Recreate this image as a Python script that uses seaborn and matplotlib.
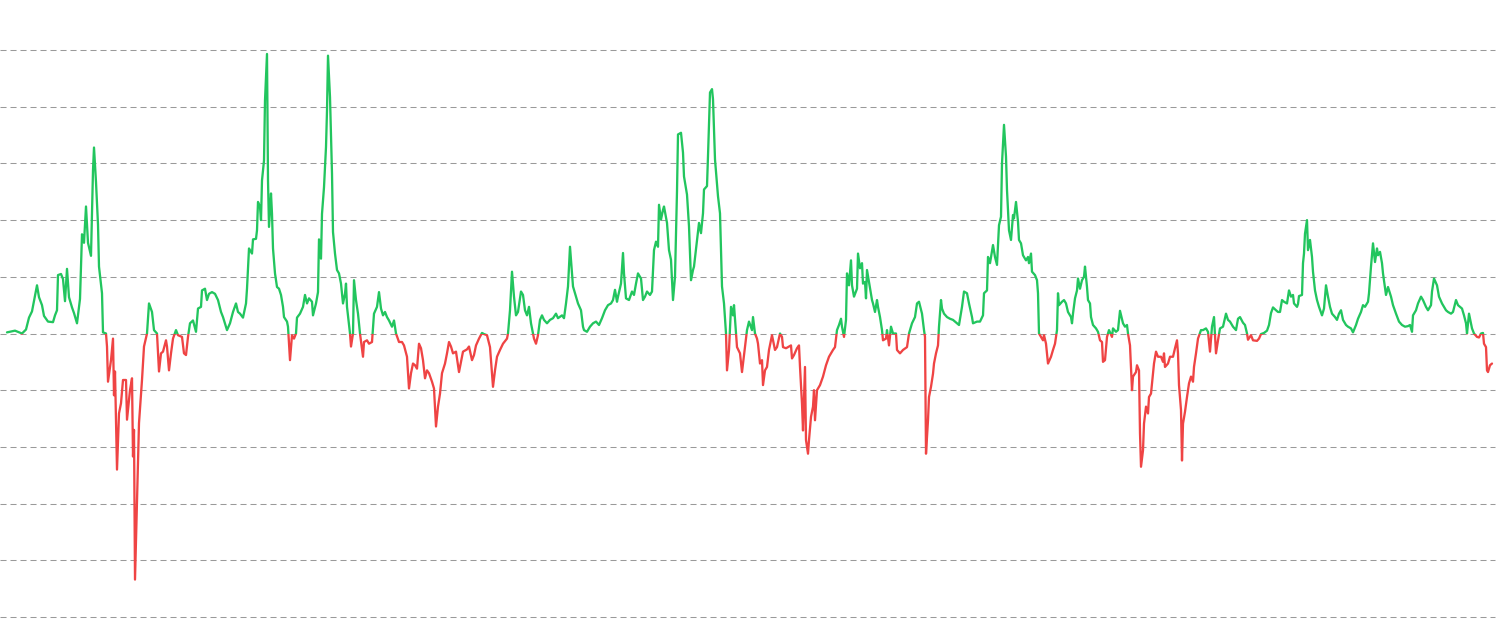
import numpy as np
import pandas as pd
import matplotlib
matplotlib.use("Agg")
import matplotlib.pyplot as plt
from matplotlib.patches import Rectangle
import seaborn as sns

# ---- data (time position, value) ----
t1 = [7,15,22,26,29,32,34,37,39,42,44,48,53,55,57,58,61,63,65,67,69,72,74,77,80,82,84,86,88,91,93,94,96,98,99,102,103,106,
      107,108,111,113,114,115,117,119,121,123,126,127,130,132,133,134,135,137,139,142,144,147,149,152,154,157,159,161,163,166,
      167,169,171,173,176,178,182,184,186,188,190,193,196,198,201,202,205,207,209,212,215,218,221,223,227,230,233,236,238]
v1 = [0.02,0.05,0,0.07,0.28,0.39,0.57,0.85,0.64,0.5,0.31,0.21,0.2,0.32,0.41,1.03,1.05,0.96,0.57,1.14,0.64,0.46,0.36,0.18,0.61,
      1.75,1.6,2.24,1.6,1.37,2.88,3.28,2.67,1.92,1.18,0.71,0.02,0,
      -0.23,-0.85,-0.47,-0.09,-1.09,-0.67,-2.4,-1.41,-1.23,-0.82,-0.82,-1.52,-1.0,-0.79,-2.17,-1.7,-4.34,-2.93,-1.58,-0.82,-0.23,
      0,0.53,0.38,0.06,0,-0.67,-0.35,-0.32,-0.12,-0.23,-0.65,-0.35,-0.09,0.06,-0.03,-0.06,-0.35,-0.38,-0.06,0.18,0.23,0.03,0.44,
      0.47,0.76,0.79,0.59,0.7,0.73,0.7,0.59,0.38,0.29,0.06,0.18,0.38,0.53,0.38]

t2 = [240,243,246,247,249,252,253,256,257,258,260,261,262,264,265,267,268,269,271,272,273,275,277,279,281,283,284,287,288,290,
      292,294,296,297,300,303,305,307,309,312,313,316,318,319,321,322,324,326,327,328,330,332,333,335,337,339,341,343,345,346,
      347,350,351,353,354,356,358,360,363,364,367,369,372,374,377,379,381,383,385,387,389,392,394,396,399,402,404,407,409,411,
      413,415,417,419,421,423,425,427,429,432,434,436,438,440,442,445,447,449,451,453,456,459,461,463,467,469,472,474,476,479,
      482,484,487]
v2 = [0.35,0.28,0.53,0.79,1.5,1.41,1.66,1.67,1.82,2.32,2.23,2.0,2.7,3.05,4.11,4.93,2.7,1.88,2.47,2.11,1.5,1.06,0.82,0.79,0.68,
      0.47,0.29,0.21,0.12,-0.47,-0.03,-0.09,0,0.28,0.35,0.47,0.68,0.53,0.62,0.56,0.32,0.53,0.73,1.66,1.32,2.11,2.58,3.29,3.93,4.9,
      4.17,2.82,1.79,1.41,1.12,1.06,0.88,0.53,0.7,0.88,0.47,0,-0.23,0,0.94,0.59,0.35,0,-0.41,-0.15,-0.12,-0.18,-0.15,0.35,0.47,
      0.73,0.44,0.32,0.38,0.29,0.23,0.12,0.23,0,-0.15,-0.15,-0.21,-0.41,-0.97,-0.7,-0.53,-0.56,-0.62,-0.18,-0.26,-0.47,-0.79,
      -0.65,-0.7,-0.85,-0.97,-1.64,-1.29,-1.06,-0.7,-0.53,-0.35,-0.15,-0.23,-0.35,-0.32,-0.68,-0.5,-0.32,-0.28,-0.23,-0.47,-0.38,
      -0.21,-0.09,0.01,-0.01,-0.03]

t3 = [490,493,495,497,500,503,507,508,510,512,514,516,518,521,523,525,527,529,531,533,534,536,538,540,542,544,547,550,553,556,
      558,562,564,566,568,570,572,573,576,578,581,583,584,587,590,593,596,599,602,605,608,611,613,615,617,618,621,623,624,626,
      629,632,634,636,638,641,643,645,647,650,652,654,656,658,659,661,663,664,667,669,671,673,675,677,678,681,683,684,687,689,
      691,693,694,697,699,701,703,704,707,708,710,712,713,715,717,718,720,722,724,726,727,729,731,733,734,736,737]
v3 = [-0.24,-0.94,-0.65,-0.41,-0.29,-0.18,-0.09,0,0.41,1.09,0.65,0.32,0.38,0.74,0.68,0.41,0.32,0.47,0.18,0,-0.09,-0.18,-0.03,
      0.24,0.32,0.24,0.18,0.24,0.27,0.35,0.27,0.32,0.27,0.53,0.83,1.53,1.06,0.83,0.65,0.53,0.41,0.12,0.06,0.03,0.12,0.18,0.21,
      0.15,0.27,0.41,0.5,0.53,0.59,0.77,0.56,0.65,0.88,1.42,1.06,0.62,0.59,0.74,0.68,0.88,1.06,0.97,0.59,0.65,0.74,0.68,0.74,
      1.47,1.62,1.53,2.27,2.01,2.18,2.24,1.95,1.47,1.3,0.59,1.0,2.51,3.51,3.54,3.19,2.77,2.45,1.89,0.94,1.12,1.18,1.65,1.95,
      1.77,2.12,2.54,2.6,3.13,4.25,4.31,4.13,3.07,2.65,2.42,2.12,0.83,0.53,0,-0.65,-0.29,0.47,0.32,0.5,0,-0.24]

t4 = [740,742,743,745,747,749,752,753,755,757,758,760,762,763,765,767,769,772,773,775,777,780,782,783,786,788,791,792,794,797,
      799,800,802,803,805,806,808,809,811,813,814,815,817,820,823,826,829,833,835,837,839,841,842,844,846,847,849,851,852,854,
      857,858,860,862,863,865,866,867,869,872,873,875,877,878,880,882,883,886,887,889,891,893,896,897,900,903,907,909,912,915,
      917,919,922,924,925,926,928,929,931,933,934,936,938,939,941,942,944,947,950,953,957,959,962,964,967,969,972,973,977,980,
      983,984,987,988]
v4 = [-0.35,-0.68,-0.53,-0.24,0.06,0.21,0.06,0.29,0,-0.09,-0.18,-0.53,-0.47,-0.91,-0.65,-0.59,-0.29,-0.03,-0.12,-0.29,-0.24,0,
      -0.06,-0.24,-0.26,-0.24,-0.21,-0.44,-0.38,-0.26,-0.21,-0.59,-1.24,-1.71,-0.59,-1.88,-2.12,-1.88,-1.47,-1.29,-1.0,-1.53,-1.0,
      -0.91,-0.76,-0.56,-0.41,-0.29,-0.24,0.06,0.15,0.26,0.12,-0.06,0.24,1.06,0.85,1.29,0.85,0.65,0.79,1.41,1.15,1.24,0.88,0.91,
      0.62,1.12,0.91,0.59,0.53,0.38,0.59,0.47,0.29,0.06,-0.12,-0.09,0.06,-0.21,0.12,0,0,-0.29,-0.35,-0.29,-0.24,0,0.18,0.29,0.53,
      0.56,0.35,0.06,-0.06,-2.12,-1.53,-1.12,-0.94,-0.71,-0.53,-0.35,-0.21,0.12,0.59,0.44,0.35,0.29,0.26,0.24,0.18,0.15,0.47,0.74,
      0.71,0.53,0.29,0.18,0.21,0.21,0.32,0.71,0.76,1.35]

t5 = [990,993,995,997,999,1001,1002,1004,1006,1007,1009,1011,1013,1014,1016,1018,1019,1021,1023,1026,1028,1029,1031,1032,1035,
      1037,1038,1039,1041,1043,1044,1046,1048,1051,1053,1055,1057,1058,1059,1062,1064,1066,1068,1071,1072,1073,1075,1077,1078,
      1080,1082,1084,1085,1087,1088,1090,1091,1093,1096,1098,1100,1102,1103,1105,1107,1109,1112,1113,1116,1118,1120,1123,1125,
      1127,1128,1130,1132,1133,1136,1137,1139,1140,1141,1143,1144,1146,1148,1149,1151,1153,1154,1156,1158,1161,1163,1164,1165,
      1168,1170,1173,1175,1177,1178,1179,1181,1182,1183,1185,1187,1189,1191,1193,1194,1196,1198,1201,1203,1206,1208,1210,1212,
      1214,1216,1218,1220,1223,1226,1228,1230,1233,1236,1238]
v5 = [1.24,1.56,1.35,1.21,1.91,2.06,3.0,3.68,3.12,2.53,1.82,1.65,2.09,2.03,2.32,1.97,1.65,1.59,1.38,1.29,1.35,1.24,1.41,1.09,
      1.03,0.94,0.71,0,-0.06,-0.12,-0.03,-0.18,-0.53,-0.41,-0.29,-0.18,0.06,0.71,0.5,0.56,0.59,0.53,0.38,0.29,0.18,0.35,0.62,0.76,
      0.97,0.79,0.94,1.0,1.18,0.82,0.59,0.53,0.29,0.15,0.09,0.03,-0.12,-0.15,-0.5,-0.47,-0.06,0.06,-0.06,0.09,0.03,0.06,0.4,0.18,
      0.12,0.15,0,-0.21,-1.0,-0.76,-0.68,-0.56,-0.65,-1.76,-2.35,-2.06,-1.59,-1.29,-1.41,-1.12,-1.06,-0.71,-0.53,-0.32,-0.41,-0.41,
      -0.5,-0.35,-0.59,-0.53,-0.41,-0.41,-0.26,-0.12,-0.35,-0.91,-1.35,-2.24,-1.59,-1.38,-1.12,-0.88,-0.76,-0.85,-0.59,-0.35,-0.09,
      0.06,0.06,0.09,0.03,-0.32,0.12,0.29,-0.35,-0.12,0.09,0.12,0.35,0.24,0.21,0.12,0.06,0.26]

t6 = [1240,1243,1245,1247,1248,1251,1253,1257,1259,1261,1264,1267,1269,1271,1273,1276,1278,1280,1282,1284,1287,1289,1291,1293,
      1294,1297,1298,1299,1302,1303,1304,1305,1307,1308,1310,1312,1313,1315,1317,1319,1322,1324,1326,1328,1330,1332,1335,1337,
      1339,1341,1343,1346,1348,1351,1353,1356,1358,1361,1363,1365,1368,1369,1371,1373,1375,1377,1378,1380,1382,1383,1386,1388,
      1391,1393,1396,1399,1402,1405,1408,1410,1412,1413,1416,1418,1421,1423,1426,1428,1431,1432,1433,1434,1437,1439,1442,1444,
      1446,1448,1451,1453,1456,1458,1460,1462,1464,1466,1467,1469,1471,1472,1474,1477,1479,1481,1483,1484,1486,1487,1488,1490,1492]
v6 = [0.29,0.19,0.15,0,-0.11,-0.03,-0.12,-0.13,-0.09,-0.01,0.01,0.05,0.15,0.36,0.46,0.41,0.38,0.38,0.59,0.56,0.53,0.76,0.65,0.68,
      0.53,0.47,0.52,0.66,0.68,1.24,1.41,1.76,2.0,1.47,1.65,1.35,1.09,0.76,0.59,0.47,0.32,0.44,0.85,0.65,0.47,0.35,0.29,0.24,0.35,
      0.41,0.24,0.15,0.12,0.09,0.02,0.15,0.26,0.38,0.5,0.47,0.56,0.71,1.18,1.59,1.26,1.5,1.38,1.44,1.24,1.06,0.68,0.82,0.65,0.5,
      0.35,0.21,0.15,0.12,0.13,0.15,0.03,0.32,0.41,0.53,0.65,0.59,0.47,0.41,0.5,0.74,0.85,0.97,0.85,0.65,0.53,0.47,0.41,0.38,0.35,
      0.38,0.59,0.5,0.47,0.44,0.32,0.18,0,0.35,0.18,0.09,0,-0.06,-0.07,0,0.01,-0.18,-0.24,-0.65,-0.68,-0.56,-0.53]

grid_levels = [-5, -4, -3, -2, -1, 0, 1, 2, 3, 4, 5]

GREEN = "#22c55e"
RED = "#ef4444"
GRID = "#9a9a9a"

df = pd.DataFrame({
    "t": t1 + t2 + t3 + t4 + t5 + t6,
    "v": v1 + v2 + v3 + v4 + v5 + v6,
})

sns.set_style("white")
fig = plt.figure(figsize=(15, 6.33), dpi=100)
ax = fig.add_axes([0, 16 / 633, 1495 / 1500, 567 / 633])
ax.set_xlim(0, 1495)
ax.set_ylim(-5, 5)

for g in grid_levels:
    ax.axhline(g, color=GRID, lw=0.75, linestyle=(0, (5.8, 3.8)), clip_on=False, zorder=0)

sns.lineplot(data=df, x="t", y="v", estimator=None, sort=False, color=GREEN, lw=1.65, ax=ax)
green_line = ax.lines[-1]
sns.lineplot(data=df, x="t", y="v", estimator=None, sort=False, color=RED, lw=1.65, ax=ax)
red_line = ax.lines[-1]

green_line.set_clip_path(Rectangle((-100, 0), 2000, 20, transform=ax.transData))
red_line.set_clip_path(Rectangle((-100, -20), 2000, 20, transform=ax.transData))

for s in ax.spines.values():
    s.set_visible(False)
ax.set_xticks([])
ax.set_yticks([])
ax.set_xlabel("")
ax.set_ylabel("")

fig.savefig("out.png", dpi=100, facecolor="white")
